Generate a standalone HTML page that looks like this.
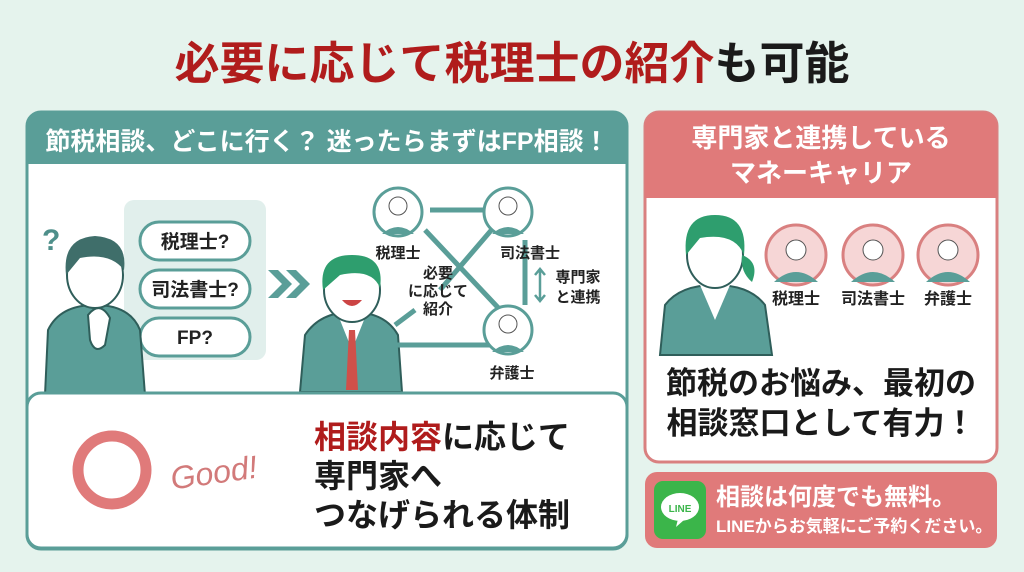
<!DOCTYPE html>
<html><head><meta charset="utf-8"><style>
html,body{margin:0;padding:0;width:1024px;height:572px;overflow:hidden;background:#e5f3ed}
svg text{font-family:"Liberation Sans","Noto Sans CJK JP",sans-serif;font-weight:bold}
</style></head><body>
<svg width="1024" height="572" viewBox="0 0 1024 572" xmlns="http://www.w3.org/2000/svg">
<rect width="1024" height="572" fill="#e5f3ed"/>
<text x="512" y="79" text-anchor="middle" font-size="45" fill="#b01c1c">必要に応じて税理士の紹介<tspan fill="#1a1a1a">も可能</tspan></text>

<rect x="27" y="112" width="600" height="437" rx="14" fill="#fff" stroke="#5a9e98" stroke-width="3"/>
<path d="M27 126 a14 14 0 0 1 14 -14 h572 a14 14 0 0 1 14 14 v38 h-600z" fill="#5a9e98"/>
<text x="327" y="150" text-anchor="middle" font-size="25" fill="#fff">節税相談、どこに行く？ 迷ったらまずはFP相談！</text>

<rect x="124" y="200" width="142" height="160" rx="10" fill="#e1efec"/>
<g fill="#fff" stroke="#5a9e98" stroke-width="3">
<rect x="140" y="222" width="110" height="38" rx="19"/>
<rect x="140" y="270" width="110" height="38" rx="19"/>
<rect x="140" y="318" width="110" height="38" rx="19"/>
</g>
<g font-size="19" fill="#222" text-anchor="middle">
<text x="195" y="248">税理士?</text>
<text x="195" y="296">司法書士?</text>
<text x="195" y="344">FP?</text>
</g>
<text x="42" y="250" font-size="30" fill="#4e8f8a" font-weight="normal">?</text>
<path d="M45 395 L48 330 Q60 305 95 305 Q130 305 140 330 L145 395 Z" fill="#5a9e98" stroke="#2f5e5a" stroke-width="2"/>
<ellipse cx="95" cy="275" rx="28" ry="33" fill="#fff" stroke="#2f5e5a" stroke-width="2"/>
<path d="M66 275 Q62 238 95 236 Q128 238 124 270 Q110 252 80 258 Z" fill="#3f6e6a"/>
<path d="M88 315 Q100 300 110 318 L105 345 Q95 355 90 340 Z" fill="#fff" stroke="#2f5e5a" stroke-width="2"/>
<path d="M268 270 h10 l14 14 l-14 14 h-10 l14 -14z M286 270 h10 l14 14 l-14 14 h-10 l14 -14z" fill="#5a9e98"/>
<path d="M300 392 L305 335 Q320 312 352 312 Q385 312 398 335 L402 392 Z" fill="#5a9e98" stroke="#2f5e5a" stroke-width="2"/>
<path d="M340 320 L352 350 L364 320 Z" fill="#fff"/>
<path d="M349 330 h6 l3 60 h-12 z" fill="#d0504a"/>
<ellipse cx="352" cy="290" rx="28" ry="32" fill="#fff" stroke="#2f5e5a" stroke-width="2"/>
<path d="M323 290 Q318 255 352 255 Q385 255 380 288 Q372 268 340 275 Z" fill="#2e9e6e"/>
<path d="M342 300 Q352 312 362 300 Z" fill="#c44"/>
<g stroke="#5a9e98" stroke-width="5" fill="none">
<path d="M430 210 H490 M425 230 L505 315 M500 220 L440 290 M525 240 V305 M395 345 H495 M395 325 L415 310"/>
</g>
<g fill="#fff" stroke="#5a9e98" stroke-width="3">
<circle cx="398" cy="212" r="24"/><circle cx="508" cy="212" r="24"/><circle cx="508" cy="330" r="24"/>
</g>
<g fill="#5a9e98">
<path d="M382 234 Q398 220 414 234Z"/><path d="M492 234 Q508 220 524 234Z"/><path d="M492 352 Q508 338 524 352Z"/>
</g>
<g fill="#fff" stroke="#555" stroke-width="1">
<circle cx="398" cy="206" r="9"/><circle cx="508" cy="206" r="9"/><circle cx="508" cy="324" r="9"/>
</g>
<g font-size="15" fill="#222" text-anchor="middle">
<text x="398" y="258">税理士</text>
<text x="530" y="258">司法書士</text>
<text x="512" y="378">弁護士</text>
<text x="438" y="278">必要</text>
<text x="438" y="296">に応じて</text>
<text x="438" y="314">紹介</text>
<text x="578" y="282">専門家</text>
<text x="578" y="302">と連携</text>
</g>
<path d="M540 270 V300 M535 275 l5 -6 l5 6 M535 295 l5 6 l5 -6" stroke="#5a9e98" stroke-width="2.5" fill="none"/>

<rect x="27" y="393" width="600" height="155" rx="14" fill="#fff" stroke="#5a9e98" stroke-width="3"/>
<circle cx="112" cy="470" r="34" fill="none" stroke="#e07a7a" stroke-width="11"/>
<text x="170" y="482" font-size="32" fill="#d27a7a" style="font-weight:normal" font-style="italic" transform="rotate(-8 225 470)">Good!</text>
<g font-size="32" fill="#1a1a1a">
<text x="314" y="448"><tspan fill="#b01c1c">相談内容</tspan>に応じて</text>
<text x="314" y="487">専門家へ</text>
<text x="314" y="526">つなげられる体制</text>
</g>

<rect x="645" y="112" width="352" height="350" rx="14" fill="#fff" stroke="#d98080" stroke-width="3"/>
<path d="M645 126 a14 14 0 0 1 14 -14 h324 a14 14 0 0 1 14 14 v72 h-352z" fill="#e07a7a"/>
<g font-size="26" fill="#fff" text-anchor="middle">
<text x="821" y="147">専門家と連携している</text>
<text x="821" y="182">マネーキャリア</text>
</g>
<path d="M660 355 L665 305 Q680 285 715 285 Q750 285 765 305 L772 355 Z" fill="#5a9e98" stroke="#2f5e5a" stroke-width="2"/>
<path d="M700 285 L715 320 L730 285 Z" fill="#fff"/>
<ellipse cx="715" cy="255" rx="28" ry="33" fill="#fff" stroke="#2f5e5a" stroke-width="2"/>
<path d="M686 255 Q682 215 715 215 Q748 215 744 255 Q735 232 700 238 Z" fill="#2e9e6e"/>
<path d="M742 255 Q760 262 752 282 Q740 272 742 255Z" fill="#2e9e6e"/>
<g fill="#f6d6d6" stroke="#d98080" stroke-width="3">
<circle cx="796" cy="255" r="30"/><circle cx="873" cy="255" r="30"/><circle cx="948" cy="255" r="30"/>
</g>
<g fill="#5a9e98">
<path d="M774 282 Q796 262 818 282Z"/><path d="M851 282 Q873 262 895 282Z"/><path d="M926 282 Q948 262 970 282Z"/>
</g>
<g fill="#fff" stroke="#555" stroke-width="1">
<circle cx="796" cy="250" r="10"/><circle cx="873" cy="250" r="10"/><circle cx="948" cy="250" r="10"/>
</g>
<g font-size="16" fill="#222" text-anchor="middle">
<text x="796" y="304">税理士</text><text x="873" y="304">司法書士</text><text x="948" y="304">弁護士</text>
</g>
<g font-size="31" fill="#1a1a1a" text-anchor="middle">
<text x="821" y="394">節税のお悩み、最初の</text>
<text x="821" y="434">相談窓口として有力！</text>
</g>

<rect x="645" y="472" width="352" height="76" rx="12" fill="#e07a7a"/>
<rect x="654" y="481" width="52" height="58" rx="9" fill="#3bb54a"/>
<ellipse cx="680" cy="507" rx="19" ry="14" fill="#fff"/>
<path d="M678 519 l-2 8 l8 -7z" fill="#fff"/>
<text x="680" y="512" font-size="10" fill="#3bb54a" text-anchor="middle">LINE</text>
<text x="716" y="505" font-size="24" fill="#fff">相談は何度でも無料。</text>
<text x="716" y="532" font-size="17" fill="#fff">LINEからお気軽にご予約ください。</text>
</svg>
</body></html>
